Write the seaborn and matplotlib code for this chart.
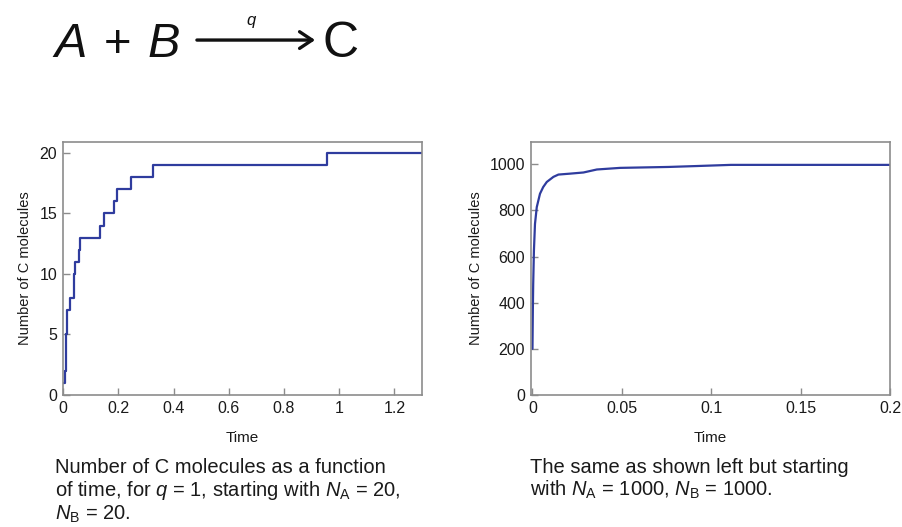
import matplotlib
matplotlib.use("Agg")
import matplotlib.pyplot as plt
import seaborn as sns
import pandas as pd
from matplotlib.ticker import FuncFormatter

sns.set_theme(style="white")
plt.rcParams['font.family'] = ['Liberation Sans', 'DejaVu Sans']
plt.rcParams['mathtext.fontset'] = 'custom'
plt.rcParams['mathtext.rm'] = 'Liberation Sans'
plt.rcParams['mathtext.it'] = 'Liberation Sans:italic'

# Left panel: N_A = N_B = 20
left_time = [0, 0.008, 0.009, 0.010, 0.011, 0.012, 0.014, 0.024, 0.038, 0.039,
             0.043, 0.056, 0.060, 0.133, 0.148, 0.184, 0.194, 0.245, 0.327, 0.957, 1.3]
left_count = [1, 2, 3, 4, 5, 6, 7, 8, 9, 10,
              11, 12, 13, 14, 15, 16, 17, 18, 19, 20, 20]

# Right panel: N_A = N_B = 1000
right_time = [0, 0.0002, 0.0004, 0.0008, 0.0014, 0.0024, 0.0042, 0.006, 0.008,
              0.0117, 0.0145, 0.021, 0.0285, 0.036, 0.049, 0.076, 0.092, 0.111, 0.2]
right_count = [200, 365, 480, 624, 741, 814, 872, 901, 923,
               945, 955, 959, 964, 977, 984, 988, 992, 997, 997]

left_xticks = [0, 0.2, 0.4, 0.6, 0.8, 1, 1.2]
left_yticks = [0, 5, 10, 15, 20]
right_xticks = [0, 0.05, 0.1, 0.15, 0.2]
right_yticks = [0, 200, 400, 600, 800, 1000]

line_color = '#2f3c9e'
spine_color = '#8c8c8c'
text_color = '#1a1a1a'

fig = plt.figure(figsize=(9.03, 5.27), dpi=100)
ax1 = fig.add_axes([0.0694, 0.2505, 0.398, 0.480])
ax2 = fig.add_axes([0.5877, 0.2505, 0.398, 0.480])

df1 = pd.DataFrame({'Time': left_time, 'C': left_count})
df2 = pd.DataFrame({'Time': right_time, 'C': right_count})

sns.lineplot(data=df1, x='Time', y='C', ax=ax1, color=line_color, lw=1.6,
             drawstyle='steps-post', estimator=None, sort=False)
sns.lineplot(data=df2, x='Time', y='C', ax=ax2, color=line_color, lw=1.6,
             estimator=None, sort=False)

fmt = FuncFormatter(lambda v, p: '%g' % round(v, 4))
for ax, xt, yt, xl, yl in [(ax1, left_xticks, left_yticks, (-0.002, 1.3), (0, 20.9)),
                           (ax2, right_xticks, right_yticks, (-0.001, 0.2), (0, 1096))]:
    ax.set_xticks(xt)
    ax.set_yticks(yt)
    ax.set_xlim(*xl)
    ax.set_ylim(*yl)
    ax.xaxis.set_major_formatter(fmt)
    ax.set_xlabel('Time', fontsize=11, labelpad=11, color=text_color)
    ax.set_ylabel('Number of C molecules', fontsize=10.5, labelpad=5, color=text_color)
    ax.tick_params(direction='in', length=5, width=1, color=spine_color,
                   labelsize=11.5, labelcolor=text_color, pad=4,
                   bottom=True, left=True)
    for s in ax.spines.values():
        s.set_color(spine_color)
        s.set_linewidth(1.2)

# Reaction equation header
fig.text(0.060, 0.892, 'A', fontsize=35, style='italic', va='baseline', ha='left', color='#111111')
fig.text(0.115, 0.892, '+', fontsize=34, va='baseline', ha='left', color='#111111')
fig.text(0.163, 0.892, 'B', fontsize=35, style='italic', va='baseline', ha='left', color='#111111')
fig.add_artist(matplotlib.patches.FancyArrowPatch((0.215, 0.924), (0.352, 0.924),
               transform=fig.transFigure, arrowstyle='->,head_length=9,head_width=6',
               mutation_scale=1, lw=2.4, color='#111111'))
fig.text(0.278, 0.962, 'q', fontsize=12, style='italic', va='center', ha='center', color='#111111')
fig.text(0.357, 0.892, 'C', fontsize=36, va='baseline', ha='left', color='#111111')

# Captions
fig.text(0.061, 0.130,
         'Number of C molecules as a function\n'
         'of time, for $q$ = 1, starting with $N_\\mathrm{A}$ = 20,\n'
         '$N_\\mathrm{B}$ = 20.',
         fontsize=14.5, va='top', ha='left', linespacing=1.1, color=text_color)
fig.text(0.587, 0.130,
         'The same as shown left but starting\n'
         'with $N_\\mathrm{A}$ = 1000, $N_\\mathrm{B}$ = 1000.',
         fontsize=14.5, va='top', ha='left', linespacing=1.1, color=text_color)

fig.savefig('out.png', dpi=100)
